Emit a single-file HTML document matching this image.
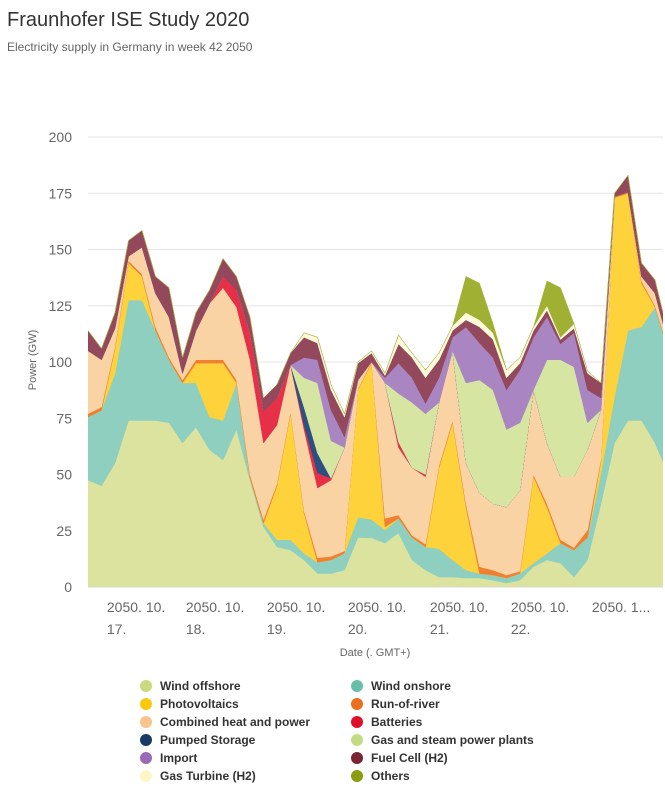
<!DOCTYPE html>
<html><head><meta charset="utf-8"><style>
body{margin:0;background:#fff;}
svg{display:block;font-family:"Liberation Sans",sans-serif;}
</style></head><body>
<svg id="chart" width="665" height="788" viewBox="0 0 665 788">
<text x="7" y="26" font-size="20" fill="#333">Fraunhofer ISE Study 2020</text>
<text x="7" y="51" font-size="12" fill="#666">Electricity supply in Germany in week 42 2050</text>
<g id="grid"></g>
<g id="areas"></g>
<g id="yaxis"></g>
<g id="xaxis"></g>
<text transform="translate(36,360) rotate(-90)" text-anchor="middle" font-size="11" fill="#666">Power (GW)</text>
<text x="375" y="656" text-anchor="middle" font-size="11" fill="#666">Date (. GMT+)</text>
<g id="legend"></g>
</svg>
<script>
const hours = [0,4,8,12,16,20,24,28,32,36,40,44,48,52,56,60,64,68,72,76,80,84,88,92,96,100,104,108,112,116,120,124,128,132,136,140,144,148,152,156,160,164,168,172];
const windOffshore = [47.5,45,55,74,74,74,73,64,71,61,56.4,70,47.5,26.7,17.8,16.4,12,6,6,7.5,22,21.8,19.5,24,12,7.5,4.4,4.4,4,4,3,1.8,3,9,12,10.6,4.4,12,37,64,74,74,64,50];
const windOnshore = [28,33.5,40,53.5,53.5,40,28,26.7,19.7,14.5,17.6,20.7,1,1.7,3.2,4.6,3,5,6,7.5,9,8.2,5.8,6.5,10,10.3,12.6,7.6,3.5,2,2.3,2.2,3,1.6,3,8.9,12,10,13.7,20.4,40,41.6,60.4,55];
const photovoltaics = [0,0,11,16.5,10.5,0,0,0,8.8,24,25.5,0,0,0,24,56.3,18,0,0,0,56.6,69.5,1.4,0,0,0,36,61,28,0,0,0,0,38.4,20.5,0,0,0,5.3,88.6,61,19.4,0,0];
const runOfRiver = [1.5,1.5,1,1,1,1.5,1,1.3,1.5,1.5,1.5,1.3,1.5,1.6,1,0.7,1,2,1.6,1,0.4,0.5,3.8,1.5,1,1.2,1,1,1.5,3,2.2,1.3,1,1,1.5,1.5,1.1,3.3,1,0.5,0.5,1,0.6,1];
const chp = [28,21,8,2,12,15,18,3,13,25,32,32.4,51,34,26,20.7,36,31,33.9,46,4,0,60.2,30,30,30,28,31,18,32.8,29.5,30.2,36,37.6,27,28,31.5,35.7,21.7,0,0,2,5.6,2];
const batteries = [0,0,0,0,0,0,0,0,0,0,5,7.6,12,14,12,0,2,6.7,0.8,0,0,0,0,2.4,0,1,0,0,0,0,0,0,0,0,0,0,0,0,0,0,0,0,0,0];
const pumpedStorage = [0,0,0,0,0,0,0,0,0,0,0,0,0,0,0,0,8,8.8,0,0,0,0,0,0,0,0,0,0,0,0,0,0,0,0,0,0,0,0,0,0,0,0,0,0];
const gasSteam = [0,0,0,0,0,0,0,0,0,0,0,0,0,0,0,0,13,31.2,16.7,0,0,0,0,21.6,29,27,0,0,35.7,50.2,50.6,34.5,30,0,37,52,48.8,12,0,0,0,0,0,0];
const importPower = [0,0,0,0,0,0,0,0,0,0,0,0,0,0,0,0,9,10.3,13.7,4.7,0,0,2.3,13.5,11,4.6,11,6,24.8,16.4,14.4,17.6,23.5,23.4,19,7,15.2,14.6,5.3,0,0,0,0,0];
const fuelCell = [9,5,7,7,7.5,7.5,13,7,8,6,8,6,7,6,6,5.3,9,7.4,8.9,8.8,7.5,4,1,8.5,9,11.4,8,3,3.2,7.2,8,5.4,3,3,3,2,2,7.4,6.7,1.5,7.5,6,5.9,4];
const gasTurbine = [0,0,0,0,0,0,0,0,0,0,0,0,0,0,0,0,2,2.6,2.4,1.5,0.5,1,1,4,2,3.5,3,2,3.3,3.1,3,3.5,2.5,1.6,2,1,2,1,0,0,0,0,0,0];
const others = [0,0,0,0,0,0,0,0,0,0,0,0,0,0,0,0,0,0,0,0,0,0,0,0,0,0,0,0,16,16.3,4,0,0,0,11,22,0,0,0,0,0,0,0,0];
const yTicks = [0,25,50,75,100,125,150,175,200];
const dayLabels = ["17.","18.","19.","20.","21.","22.","1..."];
const dayHours = [5.6,29,53,77,101.3,125.3,149.3];

const NS="http://www.w3.org/2000/svg";
const X0=88,X1=663,Y0=587,YS=2.25,HX=3.375;
const xs=h=>X0+h*HX, ys=v=>Y0-v*YS;
function mk(tag,attrs,parent){const e=document.createElementNS(NS,tag);for(const k in attrs)e.setAttribute(k,attrs[k]);parent.appendChild(e);return e;}

const grid=document.getElementById('grid'), yax=document.getElementById('yaxis');
yTicks.forEach(v=>{
  const l=mk('line',{x1:X0,x2:X1,y1:ys(v),y2:ys(v),stroke:v===0?'#ccd6eb':'#e6e6e6','stroke-width':1},grid);
  
  
  const t=mk('text',{x:72,y:ys(v)+5,'text-anchor':'end','font-size':14,fill:'#666'},yax);
  t.textContent=v;
  
  
});

const series=[
 {name:'Wind offshore',d:windOffshore,c:'#dbe39f',m:'#cbd97e'},
 {name:'Wind onshore',d:windOnshore,c:'#8fcfbf',m:'#66bfa9'},
 {name:'Photovoltaics',d:photovoltaics,c:'#fdd23b',m:'#fcc70f'},
 {name:'Run-of-river',d:runOfRiver,c:'#f08030',m:'#ea6e1c'},
 {name:'Combined heat and power',d:chp,c:'#fad3a4',m:'#f8c48c'},
 {name:'Batteries',d:batteries,c:'#e63047',m:'#e0102a'},
 {name:'Pumped Storage',d:pumpedStorage,c:'#2c5080',m:'#173a66'},
 {name:'Gas and steam power plants',d:gasSteam,c:'#d6e5a2',m:'#c3dc84'},
 {name:'Import',d:importPower,c:'#a985c2',m:'#9a6ab8'},
 {name:'Fuel Cell (H2)',d:fuelCell,c:'#93495b',m:'#7a2434'},
 {name:'Gas Turbine (H2)',d:gasTurbine,c:'#fffadb',m:'#fff6c6'},
 {name:'Others',d:others,c:'#9fb033',m:'#8a9c10'}
];
const areas=document.getElementById('areas');
const clip=mk('clipPath',{id:'pc'},mk('defs',{},document.getElementById('chart')));
mk('rect',{x:X0,y:100,width:X1-X0,height:Y0-100},clip);
areas.setAttribute('clip-path','url(#pc)');
let base=hours.map(()=>0);
series.forEach(s=>{
  const top=base.map((b,i)=>b+s.d[i]);
  let p='M'+hours.map((h,i)=>xs(h)+','+ys(top[i])).join('L');
  for(let i=hours.length-1;i>=0;i--)p+='L'+xs(hours[i])+','+ys(base[i]);
  const e=mk('path',{d:p+'Z',fill:s.c,stroke:s.c,'stroke-width':0.5,'stroke-linejoin':'round'},areas);
  
  
  base=top;
});

const xax=document.getElementById('xaxis');
dayLabels.forEach((d,i)=>{
  const x=xs(dayHours[i]);
  const t=mk('text',{x:x,y:612,'font-size':14,fill:'#666'},xax);
  t.textContent=(i===6)?'2050. 1...':'2050. 10.';
  
  
  if(i<6){
    const t2=mk('text',{x:x,y:634,'font-size':14,fill:'#666'},xax);
    t2.textContent=d;
    
    
  }
});

const leg=document.getElementById('legend');
series.forEach((s,i)=>{
  const col=i%2,row=Math.floor(i/2);
  const x=col?357:146,y=687+row*18;
  const g=mk('g',{},leg);
  
  
  mk('circle',{cx:x,cy:y-1,r:6,fill:s.m},g);
  const t=mk('text',{x:x+14,y:y+3,'font-size':12,'font-weight':'bold',fill:'#333'},g);
  t.textContent=s.name;
});
</script>
</body></html>
